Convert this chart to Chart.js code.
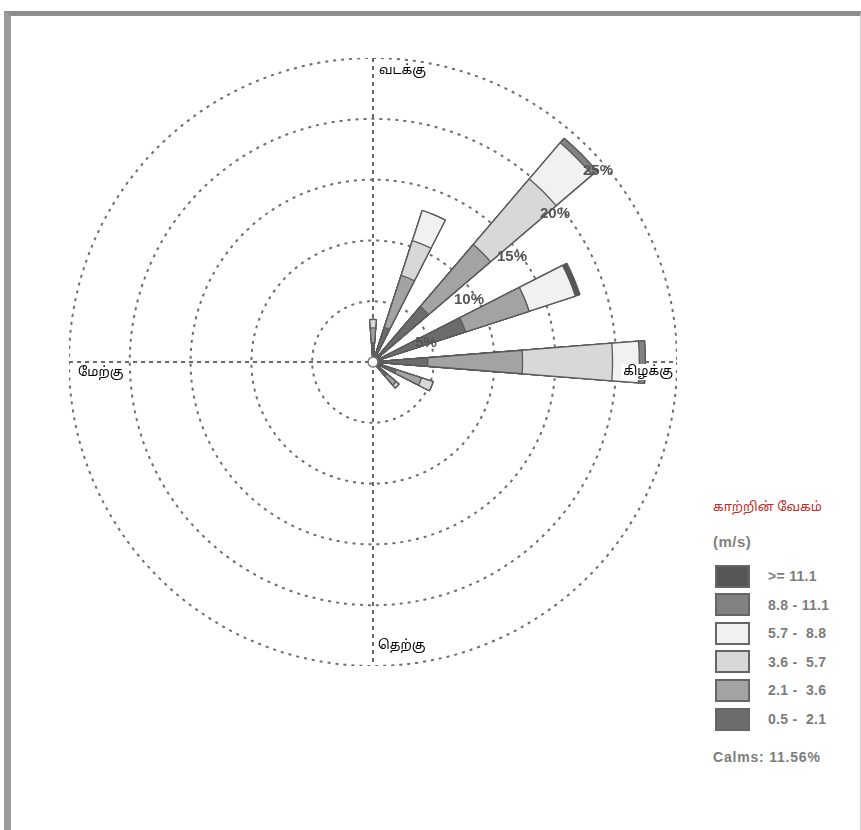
<!DOCTYPE html>
<html><head><meta charset="utf-8">
<script src="https://cdn.jsdelivr.net/npm/chart.js@4"></script>
<style>
html,body{margin:0;padding:0;background:#fff;}
body{width:861px;height:830px;position:relative;overflow:hidden;font-family:Arial,"Liberation Sans",sans-serif;}
#frame{position:absolute;left:4px;top:11px;width:849px;height:815px;border-left:7px solid #9c9c9c;border-top:5px solid #8e8e8e;border-right:1px solid #d2d2d2;border-bottom:1px solid #e2e2e2;}
#wrap{position:absolute;left:69px;top:58px;width:608px;height:608px;}
.lg{position:absolute;white-space:pre;}
#lgTitle{left:713px;top:500px;color:#c0302a;font-size:13px;font-family:"Noto Sans Tamil","Lohit Tamil","Noto Sans",sans-serif;}
#lgUnit{left:713px;top:533px;color:#808080;font-size:15px;font-weight:bold;letter-spacing:0.5px;}
.sw{position:absolute;left:715px;width:31px;height:19px;border:2px solid #666;}
.lt{position:absolute;left:768px;color:#7c7c7c;font-size:14px;font-weight:bold;line-height:16px;white-space:pre;letter-spacing:0.3px;}
#calms{left:713px;top:749px;color:#7c7c7c;font-size:14px;font-weight:bold;letter-spacing:0.8px;}
</style>
</head>
<body>
<div id="frame"></div>
<div id="wrap"><canvas id="c" width="608" height="608"></canvas></div>
<div id="lgTitle" class="lg"></div>
<div id="lgUnit" class="lg"></div>
<div id="calms" class="lg"></div>
<script>
// ---- data ----
const directions = ['N','NNE','NE','ENE','E','ESE','SE','SSE','S','SSW','SW','WSW','W','WNW','NW','NNW'];
const speedBins = ['0.5 -  2.1','2.1 -  3.6','3.6 -  5.7','5.7 -  8.8','8.8 - 11.1','>= 11.1'];
// frequency (%) per direction for each speed bin
const bin_05_21  = [1.6, 3.0, 6.0, 8.0, 4.5, 2.0, 1.5, 0, 0, 0, 0, 0, 0, 0, 0, 0];
const bin_21_36  = [1.2, 4.5, 6.7, 5.5, 7.8, 2.2, 1.0, 0, 0, 0, 0, 0, 0, 0, 0, 0];
const bin_36_57  = [0.7, 3.0, 7.1, 0.0, 7.4, 1.0, 0.3, 0, 0, 0, 0, 0, 0, 0, 0, 0];
const bin_57_88  = [0.0, 2.6, 3.9, 4.0, 2.2, 0.0, 0.0, 0, 0, 0, 0, 0, 0, 0, 0, 0];
const bin_88_111 = [0.0, 0.0, 0.5, 0.0, 0.5, 0.0, 0.0, 0, 0, 0, 0, 0, 0, 0, 0, 0];
const bin_ge_111 = [0.0, 0.0, 0.0, 0.4, 0.0, 0.0, 0.0, 0, 0, 0, 0, 0, 0, 0, 0, 0];
const ringTicks = [5, 10, 15, 20, 25];
const compassLabels = ['வடக்கு', 'கிழக்கு', 'தெற்கு', 'மேற்கு'];
const legendTitle = 'காற்றின் வேகம்';
const legendUnit = '(m/s)';
const calmsPercent = 11.56;

// ---- styles ----
const binColors = ['#6c6c6c', '#a3a3a3', '#d8d8d8', '#f1f1f1', '#828282', '#565656'];
const wedgeDeg = 9;

const bins = [bin_05_21, bin_21_36, bin_36_57, bin_57_88, bin_88_111, bin_ge_111];
const labels = directions.flatMap(d => [d, '']);
const datasets = bins.map((b, bi) => {
  const data = [];
  directions.forEach((d, k) => {
    let cum = 0;
    for (let j = 0; j <= bi; j++) cum += bins[j][k];
    data.push(+cum.toFixed(2), 0);
  });
  return {
    label: speedBins[bi],
    data,
    backgroundColor: binColors[bi],
    borderColor: '#5a5a5a',
    borderWidth: ctx => (ctx.raw > 0 ? 1.3 : 0),
    angle: ctx => (ctx.dataIndex % 2 === 0 ? wedgeDeg : 22.5 - wedgeDeg)
  };
});

const decor = {
  id: 'decor',
  beforeDatasetsDraw(chart) {
    const s = chart.scales.r, ctx = chart.ctx;
    const cx = s.xCenter, cy = s.yCenter, R = s.drawingArea;
    ctx.save();
    ctx.strokeStyle = '#6a6a6a';
    ctx.lineWidth = 2;
    ctx.setLineDash([4, 4]);
    ctx.beginPath();
    ctx.moveTo(cx - R, cy); ctx.lineTo(cx + R, cy);
    ctx.moveTo(cx, cy - R); ctx.lineTo(cx, cy + R);
    ctx.stroke();
    ctx.restore();
  },
  afterDatasetsDraw(chart) {
    const s = chart.scales.r, ctx = chart.ctx;
    const cx = s.xCenter, cy = s.yCenter, R = s.drawingArea;
    ctx.save();
    // calm circle
    ctx.beginPath();
    ctx.arc(cx, cy, 5, 0, Math.PI * 2);
    ctx.fillStyle = '#fff'; ctx.fill();
    ctx.strokeStyle = '#777'; ctx.lineWidth = 1.5; ctx.stroke();
    // ring labels
    ctx.font = 'bold 15px Arial, "Liberation Sans", sans-serif';
    ctx.fillStyle = '#555';
    ctx.textAlign = 'center'; ctx.textBaseline = 'middle';
    ringTicks.forEach(v => {
      const d = s.getDistanceFromCenterForValue(v);
      const x = cx + d * Math.SQRT1_2 + 10, y = cy - d * Math.SQRT1_2 + 24;
      ctx.fillText(v + '%', x, y);
    });
    // compass labels
    ctx.font = '13px "Noto Sans Tamil", "Lohit Tamil", "Noto Sans", sans-serif';
    ctx.textBaseline = 'middle';
    const pos = [
      {x: cx + 6, y: cy - R + 13, a: 'left'},
      {x: cx + R - 4, y: cy + 10, a: 'right'},
      {x: cx + 5, y: cy + R - 20, a: 'left'},
      {x: cx - R + 9, y: cy + 11, a: 'left'}
    ];
    compassLabels.forEach((t, i) => {
      const p = pos[i];
      ctx.textAlign = p.a;
      const w = ctx.measureText(t).width;
      const x0 = p.a === 'left' ? p.x : p.x - w;
      ctx.fillStyle = '#fff';
      ctx.fillRect(x0 - 2, p.y - 8, w + 4, 16);
      ctx.fillStyle = '#000';
      ctx.fillText(t, p.x, p.y);
    });
    ctx.restore();
  }
};

new Chart(document.getElementById('c'), {
  type: 'polarArea',
  data: { labels, datasets },
  options: {
    responsive: false,
    animation: false,
    layout: { padding: 0 },
    plugins: { legend: { display: false }, tooltip: { enabled: false } },
    scales: {
      r: {
        min: 0, max: 25,
        startAngle: -wedgeDeg / 2,
        ticks: { display: false, stepSize: 5 },
        grid: { circular: true, color: '#6e6e6e', lineWidth: 2 },
        border: { dash: [3, 5] },
        angleLines: { display: false },
        pointLabels: { display: false }
      }
    }
  },
  plugins: [decor]
});

// ---- legend (HTML) ----
document.getElementById('lgTitle').textContent = legendTitle;
document.getElementById('lgUnit').textContent = legendUnit;
document.getElementById('calms').textContent = 'Calms: ' + calmsPercent.toFixed(2) + '%';
const order = [5, 4, 3, 2, 1, 0];
order.forEach((bi, row) => {
  const cyRow = 576 + row * 28.6;
  const sw = document.createElement('div');
  sw.className = 'sw';
  sw.style.top = (cyRow - 11.5) + 'px';
  sw.style.background = binColors[bi];
  document.body.appendChild(sw);
  const t = document.createElement('div');
  t.className = 'lt';
  t.style.top = (cyRow - 8) + 'px';
  t.textContent = speedBins[bi];
  document.body.appendChild(t);
});
</script>
</body></html>
